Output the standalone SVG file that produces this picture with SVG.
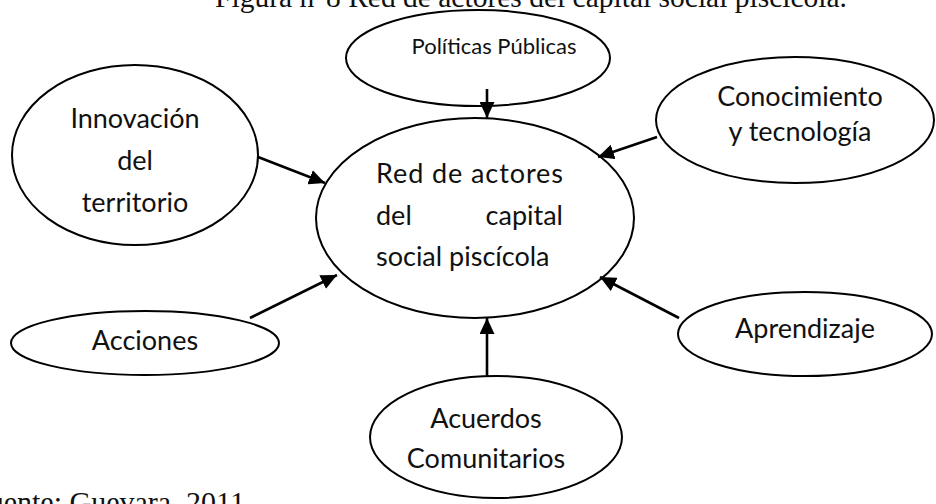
<svg xmlns="http://www.w3.org/2000/svg" width="936" height="504" viewBox="0 0 936 504">
<defs>
<style>
.n ellipse{fill:#fff;stroke:#000;stroke-width:2}
.t{font-family:Lato,"Open Sans",sans-serif;font-size:27px;fill:#111}
.c{text-anchor:middle}
.s{font-family:"Liberation Serif","Times New Roman",serif;font-size:30px;fill:#111}
#edges line{stroke:#000;stroke-width:2.6}
</style>
<marker id="ah" markerUnits="userSpaceOnUse" markerWidth="17" markerHeight="15" refX="16" refY="7.5" orient="auto">
<path d="M0,0 L16,7.5 L0,15 Z" fill="#000"/>
</marker>
</defs>
<rect width="936" height="504" fill="#fff"/>
<text class="s" x="847" y="7" text-anchor="end" style="font-size:29.5px">Figura n°8 Red de actores del capital social piscícola.</text>
<text class="s" x="245" y="512" text-anchor="end">Fuente: Guevara, 2011</text>

<g id="politicas" class="n">
<ellipse cx="478" cy="58" rx="132" ry="48"/>
<text class="t c" x="494" y="54" style="font-size:22px">Políticas Públicas</text>
</g>
<g id="centro" class="n">
<ellipse cx="475" cy="218" rx="159" ry="100"/>
<text class="t" x="376" y="183" textLength="187" lengthAdjust="spacing">Red de actores</text>
<text class="t" x="376" y="225">del</text>
<text class="t" x="563" y="225" text-anchor="end">capital</text>
<text class="t" x="376" y="266">social piscícola</text>
</g>
<g id="innovacion" class="n">
<ellipse cx="135" cy="155" rx="123" ry="90"/>
<text class="t c" x="135" y="128">Innovación</text>
<text class="t c" x="135" y="170">del</text>
<text class="t c" x="135" y="212">territorio</text>
</g>
<g id="conocimiento" class="n">
<ellipse cx="795" cy="120" rx="139" ry="63"/>
<text class="t c" x="800" y="106">Conocimiento</text>
<text class="t c" x="800" y="141">y tecnología</text>
</g>
<g id="acciones" class="n">
<ellipse cx="145" cy="343" rx="134" ry="32"/>
<text class="t c" x="145" y="350">Acciones</text>
</g>
<g id="aprendizaje" class="n">
<ellipse cx="805" cy="334" rx="127" ry="42"/>
<text class="t c" x="805" y="338">Aprendizaje</text>
</g>
<g id="acuerdos" class="n">
<ellipse cx="496" cy="437" rx="126" ry="61"/>
<text class="t c" x="486" y="428">Acuerdos</text>
<text class="t c" x="486" y="468">Comunitarios</text>
</g>

<g id="edges">
<line x1="487" y1="89" x2="487" y2="118" marker-end="url(#ah)"/>
<line x1="258" y1="157" x2="325" y2="183" marker-end="url(#ah)"/>
<line x1="657" y1="137" x2="598" y2="157" marker-end="url(#ah)"/>
<line x1="250" y1="318" x2="337" y2="275" marker-end="url(#ah)"/>
<line x1="679" y1="318" x2="600" y2="277" marker-end="url(#ah)"/>
<line x1="487" y1="376" x2="487" y2="318" marker-end="url(#ah)"/>
</g>
</svg>
